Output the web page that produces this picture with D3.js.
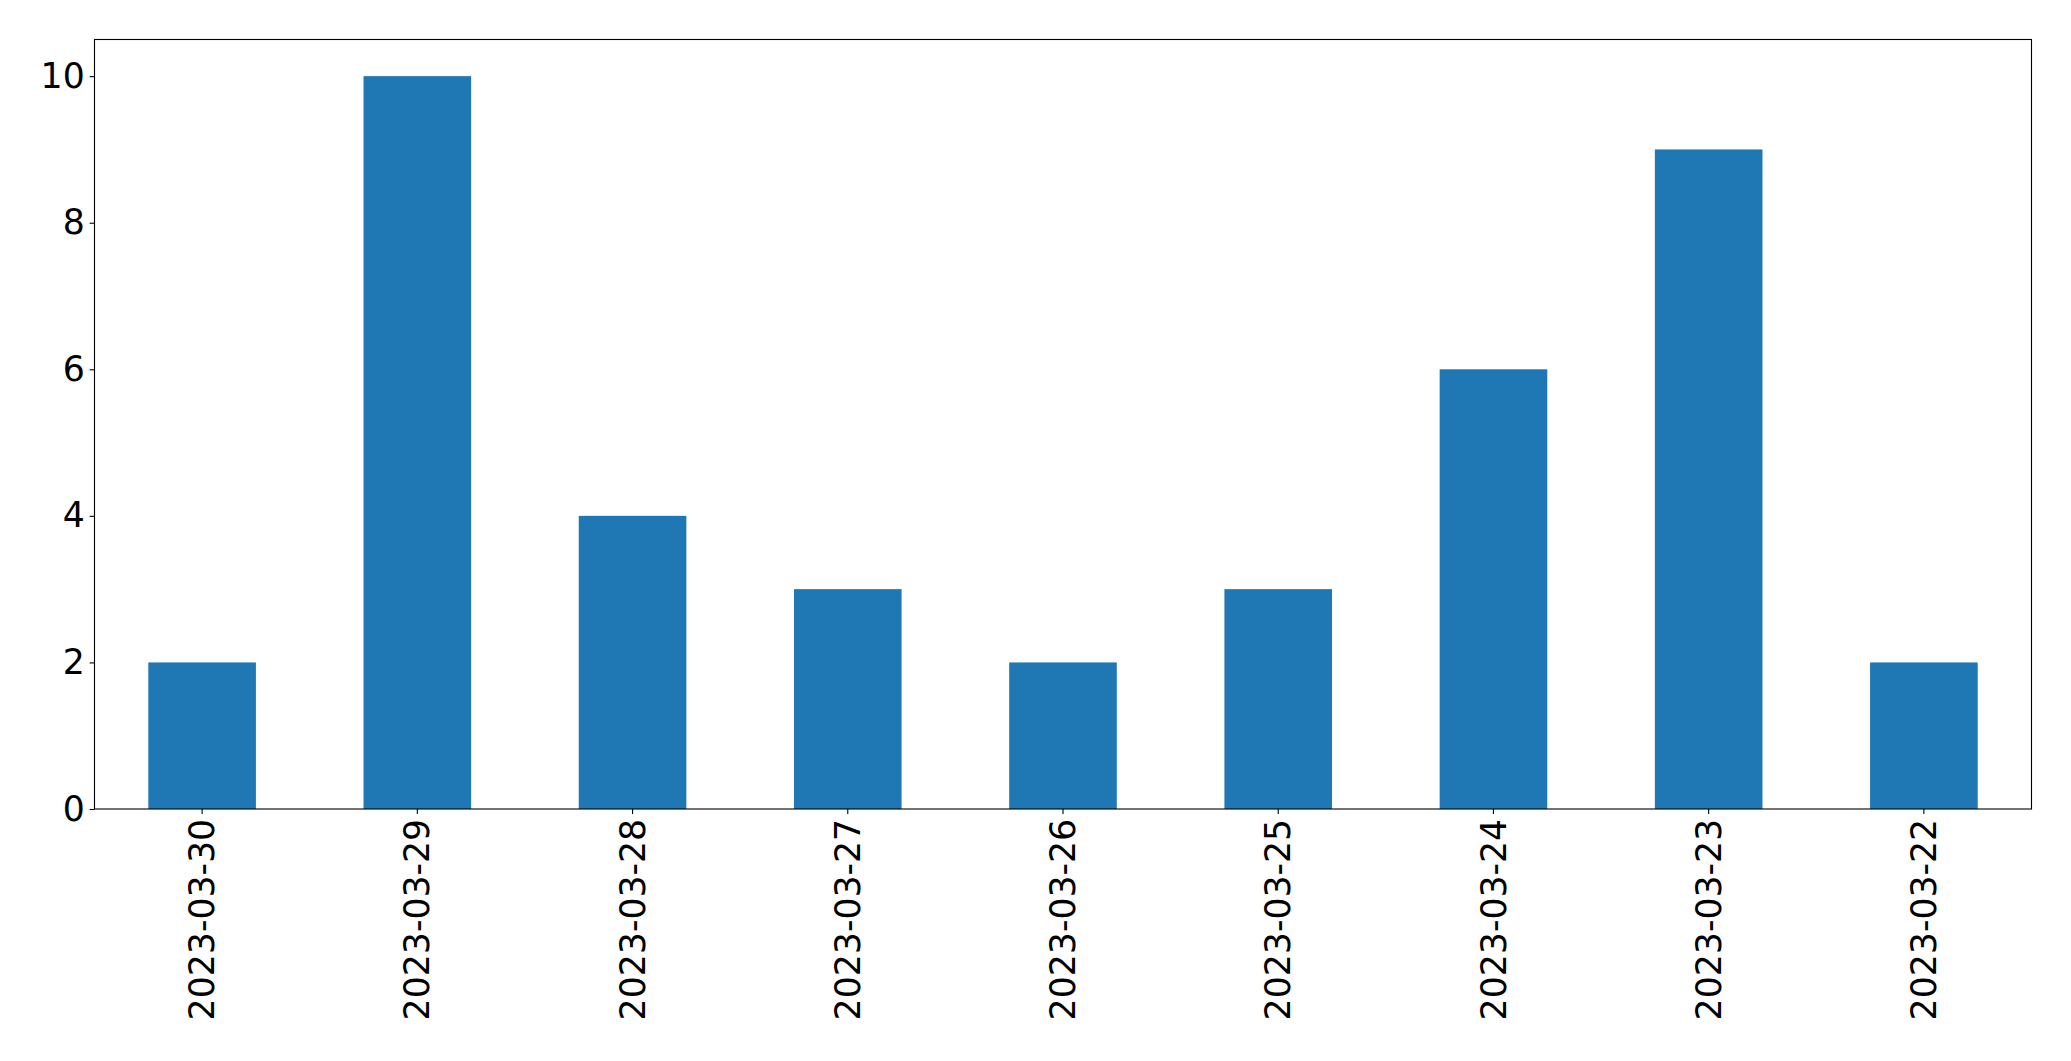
<!DOCTYPE html>
<html>
<head>
<meta charset="utf-8">
<script src="https://cdn.jsdelivr.net/npm/d3@7"></script>
<style>
  body { margin: 0; background: #fff; }
  text { font-family: "DejaVu Sans", sans-serif; fill: #000; }
</style>
</head>
<body>
<div id="chart"></div>
<script>
var dates = ["2023-03-30", "2023-03-29", "2023-03-28", "2023-03-27", "2023-03-26",
             "2023-03-25", "2023-03-24", "2023-03-23", "2023-03-22"];
var counts = [2, 10, 4, 3, 2, 3, 6, 9, 2];
var yTicks = [0, 2, 4, 6, 8, 10];

var width = 2071,
    height = 1061,
    margin = {top: 39.5, right: 39.5, bottom: 252, left: 94.5};

var innerW = width - margin.left - margin.right,
    innerH = height - margin.top - margin.bottom;

var svg = d3.select("#chart").append("svg")
    .attr("width", width)
    .attr("height", height);

var g = svg.append("g")
    .attr("transform", "translate(" + margin.left + "," + margin.top + ")");

// pandas style bar: width 0.5 of each slot
var x = d3.scaleBand()
    .domain(dates)
    .range([0, innerW])
    .paddingInner(0.5)
    .paddingOuter(0.25);

var y = d3.scaleLinear()
    .domain([0, 10.5])
    .range([innerH, 0]);

g.selectAll("rect.bar")
    .data(dates)
    .enter().append("rect")
    .attr("class", "bar")
    .attr("x", function(d) { return x(d); })
    .attr("width", x.bandwidth())
    .attr("y", function(d, i) { return y(counts[i]); })
    .attr("height", function(d, i) { return innerH - y(counts[i]); })
    .attr("fill", "#1f77b4");

var fontSize = 34.7;

var yAxis = g.append("g")
    .call(d3.axisLeft(y).tickValues(yTicks).tickSize(4.9).tickPadding(4.9).tickFormat(d3.format("d")));
yAxis.select(".domain").remove();
yAxis.selectAll("line").attr("stroke-width", 1.1);
yAxis.selectAll("text")
    .style("font-size", fontSize + "px")
    .attr("font-family", null);

var xAxis = g.append("g")
    .attr("transform", "translate(0," + innerH + ")")
    .call(d3.axisBottom(x).tickSize(4.9).tickPadding(0));
xAxis.select(".domain").remove();
xAxis.selectAll("line").attr("stroke-width", 1.1);
xAxis.selectAll("text")
    .style("font-size", fontSize + "px")
    .attr("font-family", null)
    .attr("y", 0)
    .attr("dy", "0.35em")
    .attr("transform", "translate(0,9.8) rotate(-90)")
    .attr("text-anchor", "end");

// frame
g.append("rect")
    .attr("width", innerW)
    .attr("height", innerH)
    .attr("fill", "none")
    .attr("stroke", "#000")
    .attr("stroke-width", 1.1);
</script>
</body>
</html>
